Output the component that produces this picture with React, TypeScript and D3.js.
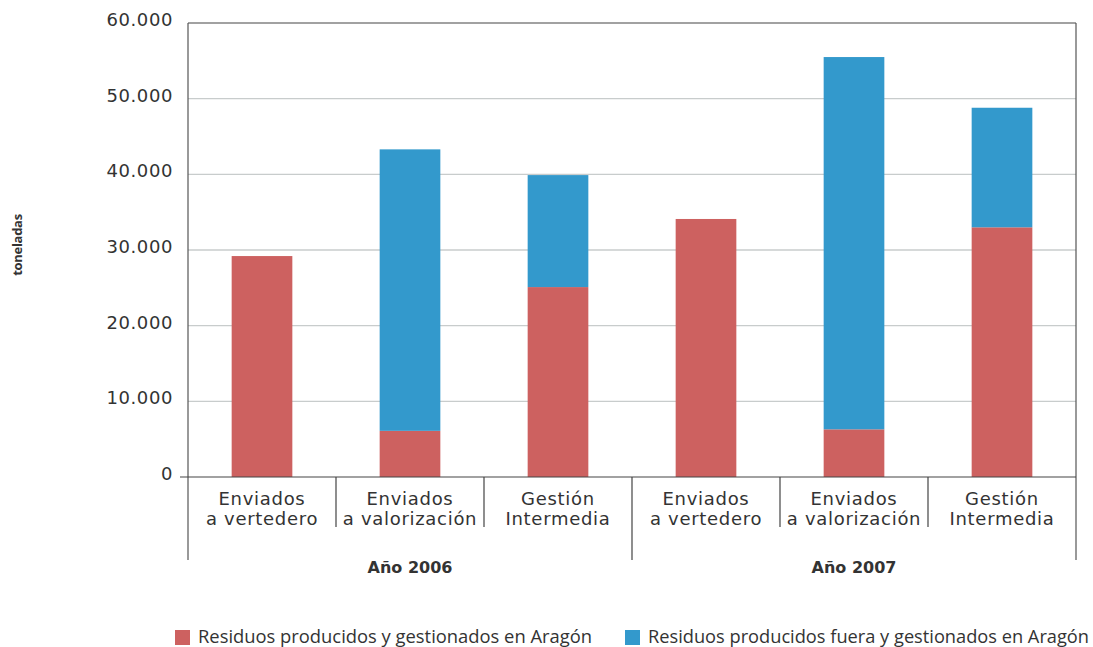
import React from 'react';
import * as d3 from 'd3';

// categories (two lines each) and group labels
const categories = ['c1', 'c2', 'c3', 'c4', 'c5', 'c6'];
const categoryLines = [
  ['Enviados', 'a vertedero'],
  ['Enviados', 'a valorización'],
  ['Gestión', 'Intermedia'],
  ['Enviados', 'a vertedero'],
  ['Enviados', 'a valorización'],
  ['Gestión', 'Intermedia'],
];
const groups = ['Año 2006', 'Año 2007'];

// series values (toneladas)
const aragon = [29200, 6100, 25100, 34100, 6300, 33000];
const fuera = [0, 37200, 14800, 0, 49200, 15800];

const yTicks = [0, 10000, 20000, 30000, 40000, 50000, 60000];
const tickLabels = ['0', '10.000', '20.000', '30.000', '40.000', '50.000', '60.000'];

const seriesNames = [
  'Residuos producidos y gestionados en Aragón',
  'Residuos producidos fuera y gestionados en Aragón',
];
const colors = ['#cd6160', '#3399cc'];

const W = 1093;
const H = 647;
const margin = { top: 23, right: 17, bottom: 170, left: 188 };

const App: React.FC = () => {
  const innerW = W - margin.left - margin.right;
  const innerH = H - margin.top - margin.bottom;

  const x = d3.scaleBand<string>()
    .domain(categories)
    .range([margin.left, margin.left + innerW])
    .paddingInner(0.59)
    .paddingOuter(0.295);

  const y = d3.scaleLinear()
    .domain([0, 60000])
    .range([margin.top + innerH, margin.top]);

  const table = categories.map((c, i) => ({ key: c, aragon: aragon[i], fuera: fuera[i] }));
  const stacked = d3.stack<any>().keys(['aragon', 'fuera'])(table);

  const step = x.step();
  const x0 = margin.left;
  const x1 = margin.left + innerW;
  const y0 = y(0);
  const font = '"DejaVu Sans", sans-serif';

  // legend item placement and text widths
  const legendX = [175, 625];
  const legendLen = [394, 441];

  return (
    <div style={{ position: 'absolute', left: 0, top: 0 }}>
      <svg width={W} height={H} style={{ display: 'block', background: '#fff' }}>
        {/* grid */}
        {yTicks.filter(t => t > 0 && t < 60000).map(t => (
          <line key={t} x1={x0} x2={x1} y1={y(t)} y2={y(t)} stroke="#c8cccc" strokeWidth={1.3} />
        ))}

        {/* bars */}
        {stacked.map((s, si) => (
          <g key={s.key} fill={colors[si]}>
            {s.map((d, i) => (
              d[1] - d[0] > 0 ? (
                <rect key={i} x={x(categories[i])} width={x.bandwidth()}
                  y={y(d[1])} height={y(d[0]) - y(d[1])} />
              ) : null
            ))}
          </g>
        ))}

        {/* frame */}
        <line x1={x0} x2={x1} y1={margin.top} y2={margin.top} stroke="#444" strokeWidth={1.2} />
        <line x1={x0} x2={x0} y1={margin.top} y2={560} stroke="#555" strokeWidth={1.2} />
        <line x1={x1} x2={x1} y1={margin.top} y2={560} stroke="#555" strokeWidth={1.2} />
        <line x1={x0 - 8} x2={x1} y1={y0} y2={y0} stroke="#444" strokeWidth={1.2} />

        {/* category separators */}
        {categories.slice(1).map((c, i) => {
          const sx = x0 + step * (i + 1);
          const long = i === 2;
          return <line key={c} x1={sx} x2={sx} y1={y0} y2={long ? 560 : 527} stroke="#444" strokeWidth={1.2} />;
        })}

        {/* y tick labels */}
        {yTicks.map((t, i) => (
          <text key={t} x={173} y={y(t) + 3} textAnchor="end" fontFamily={font}
            fontSize={18} fill="#333" letterSpacing={0.6}>{tickLabels[i]}</text>
        ))}

        {/* y axis title */}
        <text transform="translate(22,245) rotate(-90)" textAnchor="middle"
          fontFamily='"Open Sans", sans-serif'
          fontWeight="bold" fontSize={13} fill="#333" letterSpacing={-0.3}>toneladas</text>

        {/* category labels */}
        {categories.map((c, i) => {
          const cx = (x(c) ?? 0) + x.bandwidth() / 2;
          return (
            <text key={c} textAnchor="middle" fontFamily={font} fontSize={18}
              fill="#333" letterSpacing={0.7}>
              <tspan x={cx} y={505}>{categoryLines[i][0]}</tspan>
              <tspan x={cx} y={525}>{categoryLines[i][1]}</tspan>
            </text>
          );
        })}

        {/* group labels */}
        {groups.map((g, gi) => (
          <text key={g} x={x0 + step * (gi * 3 + 1.5)} y={573} textAnchor="middle"
            fontFamily={font} fontWeight="bold" fontSize={16} fill="#333">{g}</text>
        ))}

        {/* legend */}
        {seriesNames.map((n, i) => (
          <g key={n}>
            <rect x={legendX[i]} y={630} width={15} height={15} fill={colors[i]} />
            <text x={legendX[i] + 23} y={643} fontFamily='"Open Sans", sans-serif'
              fontSize={18} fill="#333" textLength={legendLen[i]}
              lengthAdjust="spacingAndGlyphs">{n}</text>
          </g>
        ))}
      </svg>
    </div>
  );
};

export default App;
